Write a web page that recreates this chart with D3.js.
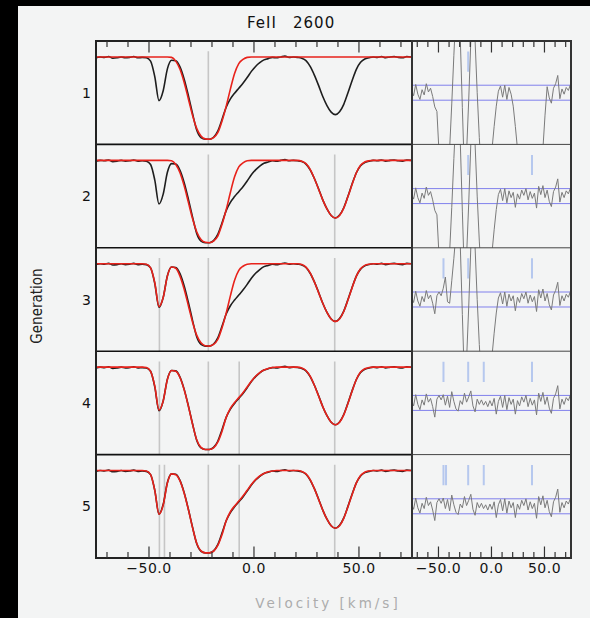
<!DOCTYPE html>
<html>
<head>
<meta charset="utf-8">
<script src="https://cdn.jsdelivr.net/npm/d3@7"></script>
<style>
body { margin: 0; background: #000; }
</style>
</head>
<body>
<script>
var chartWidth = 590;
var chartHeight = 618;

var generations = ["1", "2", "3", "4", "5"];

// velocity grid (km/s) for every spectrum below
var velocity = [-75,-73,-71,-69,-67,-65,-63,-61,-59,-57,-55,-53,-51,-49,-47,-45,-43,-41,-39,-37,
    -35,-33,-31,-29,-27,-25,-23,-21,-19,-17,-15,-13,-11,-9,-7,-5,-3,-1,1,3,
    5,7,9,11,13,15,17,19,21,23,25,27,29,31,33,35,37,39,41,43,
    45,47,49,51,53,55,57,59,61,63,65,67,69,71,73,75];

// component velocities used by each generation
var componentsGen1 = [-21.5];
var componentsGen2 = [-21.5, 38.7];
var componentsGen3 = [-44.8, -21.5, 38.7];
var componentsGen4 = [-44.8, -21.5, -6.8, 38.7];
var componentsGen5 = [-44.8, -42.4, -21.5, -6.8, 38.7];

var observedFlux = [0.99,1.0,0.995,1.005,0.985,0.99,1.0,0.99,0.995,1.005,0.99,0.995,
    0.99,0.95,0.76,0.47,0.59,0.855,0.96,0.955,
    0.88,0.73,0.53,0.31,0.11,0.02,0,0,0.025,0.1,0.24,0.39,0.49,0.56,0.62,0.68,0.75,0.825,0.885,0.93,0.965,0.98,0.995,
    0.99,1.0,1.01,0.995,1.0,0.995,
    0.985,0.955,0.885,0.78,0.655,0.52,0.41,0.33,0.30,0.335,0.425,0.565,0.715,0.85,0.935,0.975,0.99,
    1.0,0.995,1.005,0.99,1.0,1.005,0.995,0.99,1.005,1.0];

var fitGen1 = [1,1,1,1,1,1,1,1,1,1,1,1,1,1,1,1,1,1,
    0.995,0.95,0.85,0.69,0.49,0.29,0.13,0.04,0.005,0,0.02,0.08,0.22,0.40,0.61,0.80,0.92,0.97,0.995,
    1,1,1,1,1,1,1,1,1,1,1,1,1,1,1,1,1,1,1,1,1,1,1,1,1,1,1,1,1,1,1,1,1,1,1,1,1,1,1];
var fitGen2 = [1,1,1,1,1,1,1,1,1,1,1,1,1,1,1,1,1,1,
    0.995,0.95,0.85,0.69,0.49,0.29,0.13,0.04,0.005,0,0.02,0.08,0.22,0.40,0.61,0.80,0.92,0.97,0.995,
    1,1,1,1,1,1,1,1,1,1,1,1,
    0.99,0.96,0.89,0.78,0.65,0.52,0.41,0.33,0.30,0.33,0.42,0.56,0.71,0.85,0.94,0.98,0.995,
    1,1,1,1,1,1,1,1,1,1];
var fitGen3 = [1,1,1,1,1,1,1,1,1,1,1,1,
    0.995,0.95,0.77,0.48,0.59,0.85,0.96,0.945,
    0.85,0.69,0.49,0.29,0.13,0.04,0.005,0,0.02,0.08,0.22,0.40,0.61,0.80,0.92,0.97,0.995,
    1,1,1,1,1,1,1,1,1,1,1,1,
    0.99,0.96,0.89,0.78,0.65,0.52,0.41,0.33,0.30,0.33,0.42,0.56,0.71,0.85,0.94,0.98,0.995,
    1,1,1,1,1,1,1,1,1,1];
var fitGen4 = [1,1,1,1,1,1,1,1,1,1,1,1,
    0.995,0.95,0.77,0.48,0.59,0.85,0.96,0.95,
    0.875,0.725,0.525,0.305,0.115,0.025,0,0,0.02,0.09,0.22,0.39,0.50,0.57,0.63,0.69,0.76,0.83,0.89,0.935,0.965,0.985,0.995,
    1,1,1,1,1,1,
    0.99,0.96,0.89,0.78,0.65,0.52,0.41,0.33,0.30,0.33,0.42,0.56,0.71,0.85,0.94,0.98,0.995,
    1,1,1,1,1,1,1,1,1,1];
var fitGen5 = [1,1,1,1,1,1,1,1,1,1,1,1,
    0.995,0.95,0.76,0.47,0.58,0.85,0.96,0.95,
    0.875,0.725,0.525,0.305,0.115,0.025,0,0,0.02,0.09,0.22,0.39,0.50,0.57,0.63,0.69,0.76,0.83,0.89,0.935,0.965,0.985,0.995,
    1,1,1,1,1,1,
    0.99,0.96,0.89,0.78,0.65,0.52,0.41,0.33,0.30,0.33,0.42,0.56,0.71,0.85,0.94,0.98,0.995,
    1,1,1,1,1,1,1,1,1,1];

// normalised residuals (sigma); big values run off the panel
var residGen1 = [0.3,-0.4,1.1,-0.2,-0.9,0.4,-0.3,1.2,0.1,0.6,-0.5,-1.9,
    -2.5,-8,-14,-14,-14,-14,-7.5,-1.5,5,11,12,7.5,-2,-11,-8,-1,7,12,7,0,-6,-11,-14,-14,-14,-14,-7.5,-4.5,-1.8,
    0.2,0.9,-0.6,1.0,-0.9,0.7,-0.2,
    -1.8,-4.5,-7.5,-14,-14,-14,-14,-14,-14,-14,-14,-14,-14,-12,-7.5,-3,
    0.8,-0.7,-1.4,0.6,1.2,2.3,-0.8,0.5,-0.2,0.7,0.3,1.1];
var residGen2 = [0.3,-0.4,1.1,-0.2,-0.9,0.4,-0.3,1.2,0.1,0.6,-0.5,-1.9,
    -2.5,-8,-14,-14,-14,-14,-7.5,-1.5,5,11,12,7.5,-2,-11,-8,-1,7,12,7,0,-6,-11,-14,-14,-14,-14,-7.5,-4.5,-1.8,
    0.2,0.9,-0.6,1.0,-0.9,0.7,-0.2,
    0.5,-1.5,0.3,-0.4,0.8,0.1,1.0,-0.5,0.6,-0.3,0.4,-1.6,
    1.3,0.2,1.4,-0.2,0.8,-0.7,-1.4,0.6,1.2,2.3,-0.8,0.5,-0.2,0.7,0.3,1.1];
var residGen3 = [0.3,-0.4,1.1,-0.2,-0.9,0.4,-0.3,1.2,0.1,0.6,-0.5,-1.9,0.5,1.0,
    0.5,1.5,3.0,-0.3,-0.5,2.5,5.5,9,12,
    7.5,-2,-11,-8,-1,7,12,7,0,-6,-11,-14,-14,-14,-14,-7.5,-4.5,-1.8,
    0.2,0.9,-0.6,1.0,-0.9,0.7,-0.2,
    0.5,-1.5,0.3,-0.4,0.8,0.1,1.0,-0.5,0.6,-0.3,0.4,-1.6,
    1.3,0.2,1.4,-0.2,0.8,-0.7,-1.4,0.6,1.2,2.3,-0.8,0.5,-0.2,0.7,0.3,1.1];
var residGen4 = [0.3,-0.4,1.1,-0.2,-0.9,0.4,-0.3,1.2,0.1,0.6,-0.5,-1.9,
    0.5,1.0,0.4,1.1,-0.3,0.9,-0.6,1.5,0.2,-0.8,-1.1,0.3,
    -0.2,1.3,0.1,0.8,1.6,-0.4,-1.2,0.5,-0.2,0.4,-0.3,0.2,
    -0.5,0.3,-0.4,0.6,-1.5,0.2,0.9,-0.6,1.0,-0.9,0.7,-0.2,
    0.5,-1.5,0.3,-0.4,0.8,0.1,1.0,-0.5,0.6,-0.3,0.4,-1.6,
    1.3,0.2,1.4,-0.2,0.8,-0.7,-1.4,0.6,1.2,2.3,-0.8,0.5,-0.2,0.7,0.3,1.1];
var residGen5 = [0.3,-0.4,1.1,-0.2,-0.9,0.4,-0.3,1.2,0.1,0.6,-0.5,-1.9,
    0.5,1.0,0.4,1.1,-0.3,0.9,-0.6,1.5,0.2,-0.8,-1.1,0.3,
    -0.2,1.3,0.1,0.8,1.6,-0.4,-1.2,0.5,-0.2,0.4,-0.3,0.2,
    -0.5,0.3,-0.4,0.6,-1.5,0.2,0.9,-0.6,1.0,-0.9,0.7,-0.2,
    0.5,-1.5,0.3,-0.4,0.8,0.1,1.0,-0.5,0.6,-0.3,0.4,-1.6,
    1.3,0.2,1.4,-0.2,0.8,-0.7,-1.4,0.6,1.2,2.3,-0.8,0.5,-0.2,0.7,0.3,1.1];

var majorTicks = [-50, 0, 50];
var minorTicks = [-70, -60, -40, -30, -20, -10, 10, 20, 30, 40, 60, 70];

var components = [componentsGen1, componentsGen2, componentsGen3, componentsGen4, componentsGen5];
var fits = [fitGen1, fitGen2, fitGen3, fitGen4, fitGen5];
var resids = [residGen1, residGen2, residGen3, residGen4, residGen5];

var panelLeft = 96, panelSplit = 412, panelRight = 571;
var panelTop = 41, panelBottom = 558;
var rowHeight = (panelBottom - panelTop) / generations.length;

var svg = d3.select('body')
    .append('svg')
    .attr('width', chartWidth)
    .attr('height', chartHeight)
    .style('display', 'block');

svg.append('rect')
    .attr('width', chartWidth)
    .attr('height', chartHeight)
    .attr('fill', '#000');

svg.append('rect')
    .attr('x', 18)
    .attr('y', 6)
    .attr('width', chartWidth - 18)
    .attr('height', chartHeight - 6)
    .attr('fill', '#f3f4f4');

var xLeft = d3.scaleLinear().domain([-75, 75.5]).range([panelLeft, panelSplit]);
var xRight = d3.scaleLinear().domain([-74.5, 75.5]).range([panelSplit, panelRight]);

var defs = svg.append('defs');

generations.forEach(function(gen, r) {
    var top = panelTop + r * rowHeight;
    var yFlux = d3.scaleLinear().domain([-0.062, 1.194]).range([top + rowHeight, top]);
    var yResid = d3.scaleLinear().domain([-6.9, 6.9]).range([top + rowHeight, top]);

    defs.append('clipPath').attr('id', 'clipL' + r)
        .append('rect')
        .attr('x', panelLeft).attr('y', top)
        .attr('width', panelSplit - panelLeft).attr('height', rowHeight);
    defs.append('clipPath').attr('id', 'clipR' + r)
        .append('rect')
        .attr('x', panelSplit).attr('y', top)
        .attr('width', panelRight - panelSplit).attr('height', rowHeight);

    // left: spectrum and fit
    var left = svg.append('g').attr('clip-path', 'url(#clipL' + r + ')');

    left.selectAll('line.comp')
        .data(components[r])
        .join('line')
        .attr('class', 'comp')
        .attr('x1', function(d) { return xLeft(d); })
        .attr('x2', function(d) { return xLeft(d); })
        .attr('y1', yFlux(1.07))
        .attr('y2', top + rowHeight)
        .attr('stroke', '#c6c6c6')
        .attr('stroke-width', 1.6);

    var fluxLine = d3.line()
        .x(function(d) { return xLeft(d[0]); })
        .y(function(d) { return yFlux(d[1]); })
        .curve(d3.curveMonotoneX);

    left.append('path')
        .datum(d3.zip(velocity, observedFlux))
        .attr('d', fluxLine)
        .attr('fill', 'none')
        .attr('stroke', '#1e1e1e')
        .attr('stroke-width', 1.6);

    left.append('path')
        .datum(d3.zip(velocity, fits[r]))
        .attr('d', fluxLine)
        .attr('fill', 'none')
        .attr('stroke', '#e8221b')
        .attr('stroke-width', 1.6);

    // right: residuals
    var right = svg.append('g').attr('clip-path', 'url(#clipR' + r + ')');

    right.selectAll('line.sigma')
        .data([-1, 1])
        .join('line')
        .attr('class', 'sigma')
        .attr('x1', panelSplit)
        .attr('x2', panelRight)
        .attr('y1', function(d) { return yResid(d); })
        .attr('y2', function(d) { return yResid(d); })
        .attr('stroke', '#8080ec')
        .attr('stroke-width', 1);

    right.selectAll('line.comp')
        .data(components[r])
        .join('line')
        .attr('class', 'comp')
        .attr('x1', function(d) { return xRight(d); })
        .attr('x2', function(d) { return xRight(d); })
        .attr('y1', yResid(5.5))
        .attr('y2', yResid(2.8))
        .attr('stroke', '#b6c8ee')
        .attr('stroke-width', 2);

    var residLine = d3.line()
        .x(function(d) { return xRight(d[0]); })
        .y(function(d) { return yResid(d[1]); });

    right.append('path')
        .datum(d3.zip(velocity, resids[r]))
        .attr('d', residLine)
        .attr('fill', 'none')
        .attr('stroke', '#7a7a7a')
        .attr('stroke-width', 1);

    svg.append('text')
        .attr('x', 91)
        .attr('y', top + rowHeight / 2 + 5)
        .attr('text-anchor', 'end')
        .attr('font-family', 'DejaVu Sans, sans-serif')
        .attr('font-size', '14px')
        .attr('fill', '#111')
        .text(gen);

    if (r > 0) {
        svg.append('line')
            .attr('x1', panelLeft).attr('x2', panelSplit)
            .attr('y1', top).attr('y2', top)
            .attr('stroke', '#111')
            .attr('stroke-width', 1.6);
        svg.append('line')
            .attr('x1', panelSplit).attr('x2', panelRight)
            .attr('y1', top).attr('y2', top)
            .attr('stroke', '#444')
            .attr('stroke-width', 1);
    }
});

// frames
svg.append('rect')
    .attr('x', panelLeft).attr('y', panelTop)
    .attr('width', panelSplit - panelLeft).attr('height', panelBottom - panelTop)
    .attr('fill', 'none')
    .attr('stroke', '#222')
    .attr('stroke-width', 2);

svg.append('rect')
    .attr('x', panelSplit).attr('y', panelTop)
    .attr('width', panelRight - panelSplit).attr('height', panelBottom - panelTop)
    .attr('fill', 'none')
    .attr('stroke', '#333')
    .attr('stroke-width', 2);

function addTicks(scale, y, onTop, values, size, withLabels) {
    var axis = onTop ? d3.axisTop(scale) : d3.axisBottom(scale);
    axis.tickValues(values)
        .tickSize(-size)
        .tickPadding(5)
        .tickFormat(withLabels ? d3.format('.1f') : '');

    var g = svg.append('g')
        .attr('transform', 'translate(0,' + y + ')')
        .call(axis);
    g.select('.domain').remove();
    g.selectAll('.tick line')
        .attr('stroke', '#333')
        .attr('stroke-width', 1.2);
    g.selectAll('.tick text')
        .attr('font-family', 'DejaVu Sans, sans-serif')
        .attr('font-size', '14px')
        .attr('letter-spacing', '0.5px')
        .attr('fill', '#151515');
}

[xLeft, xRight].forEach(function(scale) {
    addTicks(scale, panelTop, true, minorTicks, 6, false);
    addTicks(scale, panelTop, true, majorTicks, 11.5, false);
    addTicks(scale, panelBottom, false, minorTicks, 6, false);
    addTicks(scale, panelBottom, false, majorTicks, 11.5, true);
});

svg.append('text')
    .attr('x', 247)
    .attr('y', 28)
    .attr('font-family', 'DejaVu Sans, sans-serif')
    .attr('font-size', '15px')
    .attr('letter-spacing', '1px')
    .attr('fill', '#111')
    .text('FeII');

svg.append('text')
    .attr('x', 293)
    .attr('y', 28)
    .attr('font-family', 'DejaVu Sans, sans-serif')
    .attr('font-size', '15px')
    .attr('letter-spacing', '1px')
    .attr('fill', '#111')
    .text('2600');

svg.append('text')
    .attr('transform', 'translate(42,306) rotate(-90)')
    .attr('text-anchor', 'middle')
    .attr('font-family', 'Liberation Sans Narrow, DejaVu Sans Condensed, sans-serif')
    .attr('font-size', '15px')
    .attr('fill', '#222')
    .text('Generation');

svg.append('text')
    .attr('x', 328)
    .attr('y', 608)
    .attr('text-anchor', 'middle')
    .attr('font-family', 'DejaVu Sans, sans-serif')
    .attr('font-size', '13.5px')
    .attr('letter-spacing', '3px')
    .attr('fill', '#acacac')
    .text('Velocity [km/s]');
</script>
</body>
</html>
